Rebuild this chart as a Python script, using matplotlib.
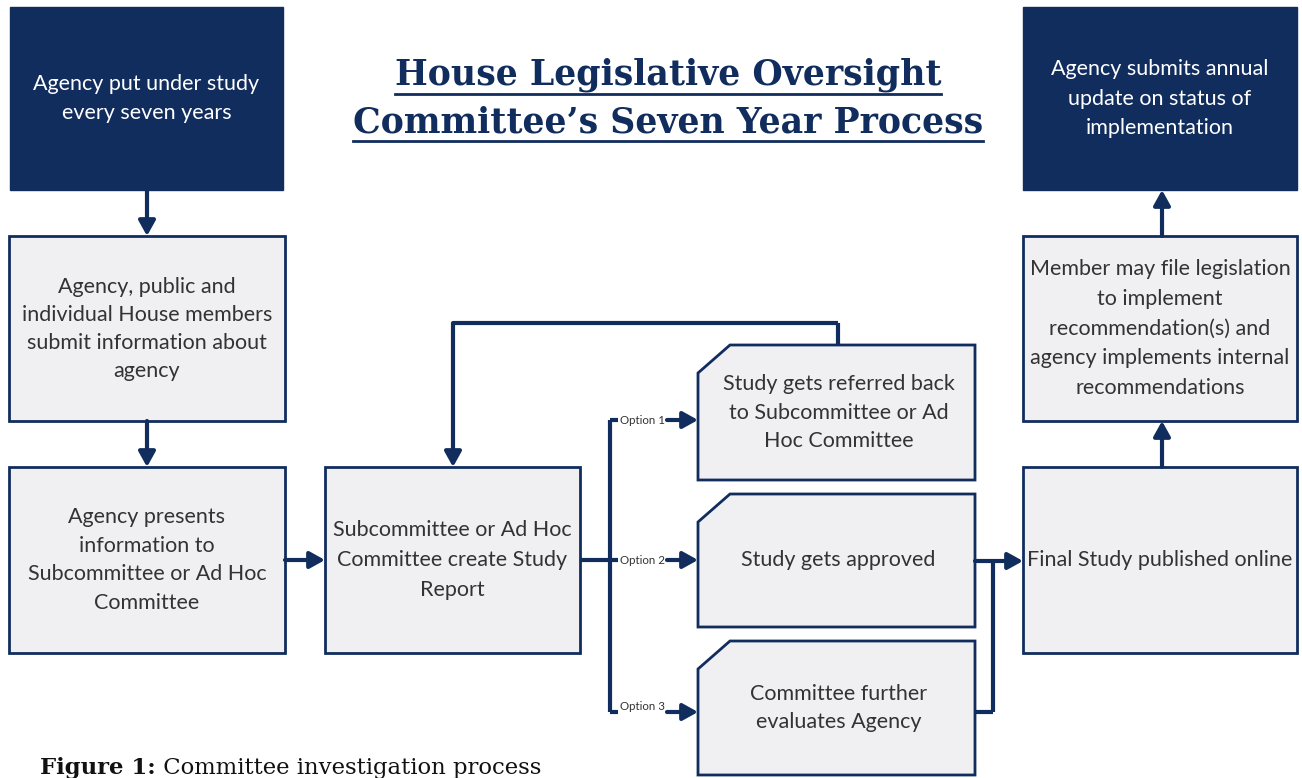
import matplotlib
matplotlib.use("Agg")
import matplotlib.pyplot as plt
from matplotlib.patches import Rectangle, Polygon

W, H = 1302, 778
NAVY = "#112d5e"
FILL = "#f0f0f2"
TXT = "#333333"

title_lines = ["House Legislative Oversight", "Committee\u2019s Seven Year Process"]
caption_bold = "Figure 1:"
caption_rest = " Committee investigation process"

# box texts
t_top_left = "Agency put under study\nevery seven years"
t_submit = "Agency, public and\nindividual House members\nsubmit information about\nagency"
t_present = "Agency presents\ninformation to\nSubcommittee or Ad Hoc\nCommittee"
t_report = "Subcommittee or Ad Hoc\nCommittee create Study\nReport"
t_opt1 = "Study gets referred back\nto Subcommittee or Ad\nHoc Committee"
t_opt2 = "Study gets approved"
t_opt3 = "Committee further\nevaluates Agency"
t_final = "Final Study published online"
t_member = "Member may file legislation\nto implement\nrecommendation(s) and\nagency implements internal\nrecommendations"
t_top_right = "Agency submits annual\nupdate on status of\nimplementation"
option_labels = ["Option 1", "Option 2", "Option 3"]

fig = plt.figure(figsize=(W / 100, H / 100), dpi=100)
fig.patch.set_facecolor("white")
ax = fig.add_axes([0, 0, 1, 1])
ax.set_xlim(0, W)
ax.set_ylim(H, 0)
ax.axis("off")

FONT = "Lato"
FS = 15.5


def rect(x0, y0, x1, y1, text, dark=False, fs=FS, ls=1.55, dy=0):
    if dark:
        ax.add_patch(Rectangle((x0, y0), x1 - x0, y1 - y0, facecolor=NAVY,
                               edgecolor=NAVY, lw=1, zorder=2))
        col = "white"
    else:
        ax.add_patch(Rectangle((x0, y0), x1 - x0, y1 - y0, facecolor=FILL,
                               edgecolor=NAVY, lw=2, zorder=2))
        col = TXT
    ax.text((x0 + x1) / 2, (y0 + y1) / 2 + dy, text, ha="center", va="center",
            color=col, fontsize=fs, family=FONT, linespacing=ls, zorder=3)


def clipped(x0, y0, x1, y1, text, cx=32, cy=28, fs=FS, ls=1.55):
    pts = [(x0, y0 + cy), (x0 + cx, y0), (x1, y0), (x1, y1), (x0, y1)]
    ax.add_patch(Polygon(pts, closed=True, facecolor=FILL, edgecolor=NAVY,
                         lw=2, zorder=2))
    ax.text((x0 + x1) / 2 + 2, (y0 + y1) / 2, text, ha="center", va="center",
            color=TXT, fontsize=fs, family=FONT, linespacing=ls, zorder=3)


def line(xs, ys):
    ax.plot(xs, ys, color=NAVY, lw=3, solid_capstyle="butt",
            solid_joinstyle="miter", zorder=1)


def arrow(x0, y0, x1, y1):
    ax.annotate("", xy=(x1, y1), xytext=(x0, y0),
                arrowprops=dict(arrowstyle="-|>,head_length=0.9,head_width=0.5",
                                color=NAVY, lw=3, shrinkA=0, shrinkB=0),
                zorder=4)


# boxes
rect(10, 7, 283, 190, t_top_left, dark=True, ls=1.6)
rect(9, 236, 285, 421, t_submit, ls=1.5)
rect(9, 467, 285, 653, t_present)
rect(325, 467, 580, 653, t_report, ls=1.65)
clipped(698, 345, 975, 480, t_opt1)
clipped(698, 494, 975, 627, t_opt2)
clipped(698, 641, 975, 775, t_opt3)
rect(1023, 467, 1297, 653, t_final)
rect(1023, 236, 1297, 421, t_member, ls=1.62)
rect(1023, 7, 1297, 190, t_top_right, dark=True, ls=1.62)

# vertical arrows left column
arrow(147, 190, 147, 236)
arrow(147, 421, 147, 467)
arrow(285, 560, 325, 560)

# branch
line([580, 610], [560, 560])
line([610, 610], [420, 712])
opt_y = [420, 560, 712]
for lab, y in zip(option_labels, opt_y):
    line([610, 618], [y, y])
    arrow(667, y, 698, y)
    ax.text(642, y - (5 if y == 712 else 0), lab, ha="center", va="center",
            fontsize=8.3, family=FONT, color=TXT, zorder=3)

# feedback loop
line([838, 838], [345, 323])
line([838, 453], [323, 323])
arrow(453, 323, 453, 467)

# merge to final
line([975, 993], [712, 712])
line([993, 993], [712, 560])
arrow(975, 561, 1023, 561)

# right column arrows
arrow(1162, 467, 1162, 421)
arrow(1162, 236, 1162, 190)

# title
fig.canvas.draw()
r = fig.canvas.get_renderer()
inv = ax.transData.inverted()
for txt, y in zip(title_lines, [75, 122]):
    t = ax.text(668, y, txt, ha="center", va="center", fontsize=25,
                family="DejaVu Serif", weight="bold", color=NAVY)
    bb = t.get_window_extent(renderer=r)
    (xa, _), (xb, _) = inv.transform([(bb.x0, bb.y0), (bb.x1, bb.y0)])
    ax.plot([xa, xb], [y + 19, y + 19], color=NAVY, lw=2)

# caption
t1 = ax.text(40, 774, caption_bold, ha="left", va="baseline", fontsize=16.4,
             family="DejaVu Serif", weight="bold", color="#111111")
bb = t1.get_window_extent(renderer=r)
xend = inv.transform((bb.x1, bb.y0))[0]
ax.text(xend, 774, caption_rest, ha="left", va="baseline", fontsize=16.4,
        family="DejaVu Serif", color="#111111")

fig.savefig("out.png", dpi=100, facecolor="white")
